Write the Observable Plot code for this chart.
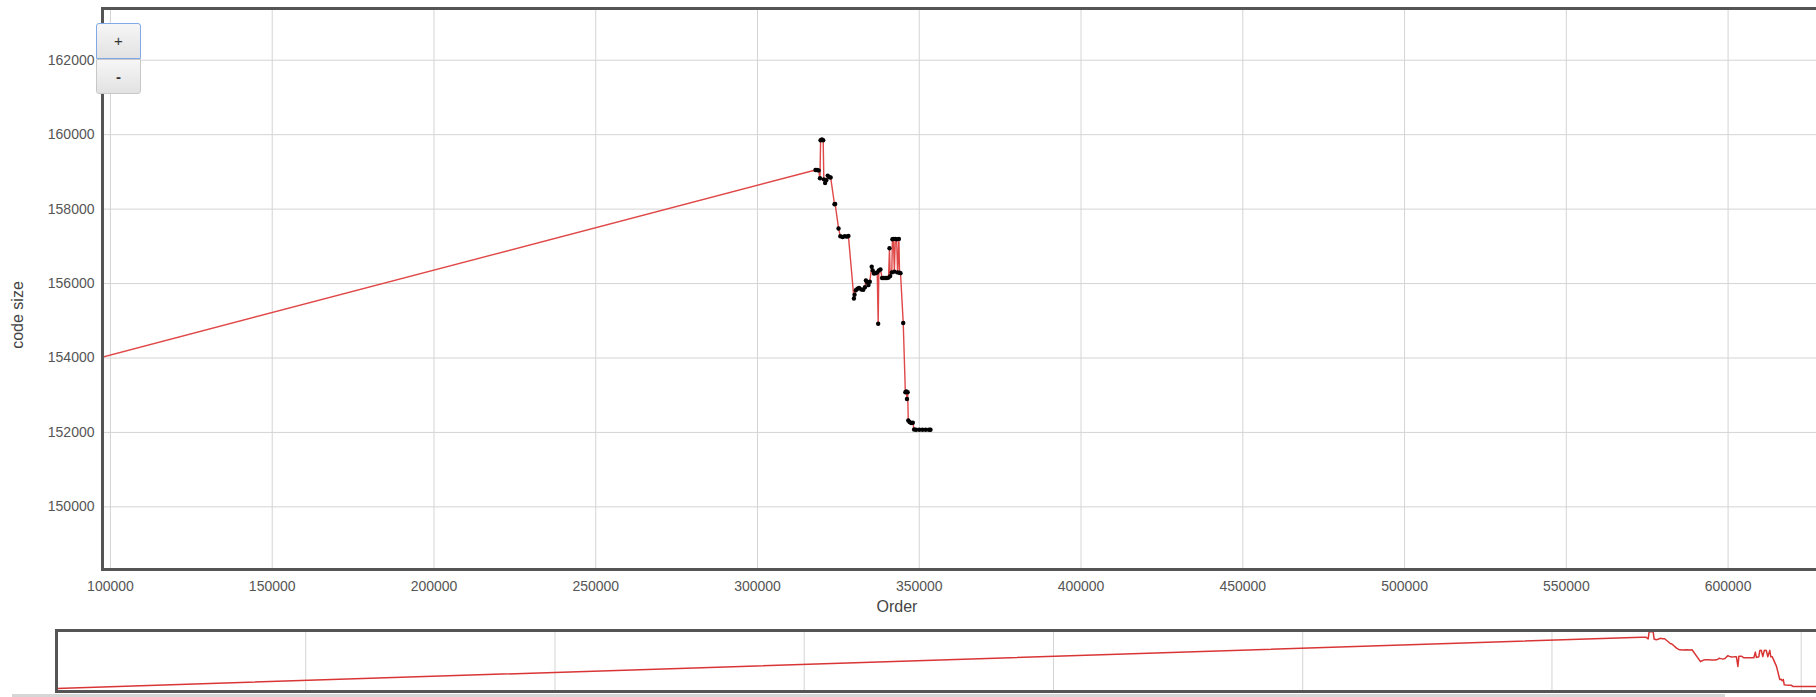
<!DOCTYPE html>
<html>
<head>
<meta charset="utf-8">
<script src="https://cdn.jsdelivr.net/npm/d3@7"></script>
<script src="https://cdn.jsdelivr.net/npm/@observablehq/plot@0.6"></script>
<style>
  html, body { margin: 0; padding: 0; background: #fff; overflow: hidden; width: 1816px; height: 697px; }
  body { position: relative; font-family: 'Liberation Sans', Arial, sans-serif; }
  #main { position: absolute; left: 0; top: 0; width: 1860px; }
  #overview { position: absolute; left: 0; top: 625px; width: 1822px; }
  #main svg, #overview svg { max-width: none !important; }
  .btn { position: absolute; left: 96px; width: 45px; box-sizing: border-box; text-align: center;
         background: linear-gradient(#f6f6f6, #e2e2e2); border: 1px solid #c8c8c8; color: #333;
         font-size: 15px; }
  #plus { top: 23px; height: 36px; line-height: 34px; border: 1px solid #7fa8e6; border-radius: 3px 3px 0 0; }
  #minus { top: 59px; height: 35px; line-height: 33px; border-radius: 0 0 3px 3px; font-weight: bold; }
  .lab { position: absolute; color: #444; font-size: 16px; white-space: nowrap; }
  #xlab { left: 897px; top: 607px; transform: translate(-50%, -50%); }
  #ylab { left: 18px; top: 315px; transform: translate(-50%, -50%) rotate(-90deg); }
  #scroll { position: absolute; left: 12px; top: 694px; width: 1713px; height: 3px; background: #d6d6d6; }
</style>
</head>
<body>
<div id="main"></div>
<div id="overview"></div>
<div id="plus" class="btn">+</div>
<div id="minus" class="btn">-</div>
<div id="xlab" class="lab">Order</div>
<div id="ylab" class="lab">code size</div>
<div id="scroll"></div>
<script>
// Commit order (x) and code size (y)
const orders = [
  0, 317930, 318400, 318900, 319300, 319500, 319900, 320300, 320500, 320900,
  321300, 321700, 322200, 322600, 323800, 324000, 325050, 325600, 326300, 327000,
  327700, 328100, 329800, 330000, 330400, 330900, 331400, 332100, 332700, 333200,
  333500, 333900, 334300, 334700, 335300, 335600, 336000, 336500, 337000, 337300,
  337500, 338000, 338500, 339000, 339500, 340000, 340500, 340800, 341000, 341500,
  341700, 342000, 342300, 342600, 343000, 343300, 343700, 343900, 344200, 345040,
  345700, 346000, 346200, 346400, 346600, 347000, 347500, 348000, 348400, 349000,
  350000, 351000, 352000, 353000, 353470
];
const sizes = [
  151800, 159050, 159050, 159040, 158830, 159850, 159870, 159850, 158800, 158700,
  158780, 158900, 158860, 158850, 158130, 158140, 157480, 157270, 157250, 157270,
  157260, 157280, 155600, 155700, 155820, 155860, 155880, 155840, 155830, 155900,
  156080, 156030, 155960, 156050, 156450, 156350, 156270, 156280, 156300, 154920,
  156350, 156380, 156150, 156150, 156150, 156150, 156160, 156950, 156200, 156300,
  157190, 157200, 156320, 157200, 157190, 156300, 157200, 156290, 156280, 154940,
  153080, 153100, 152900, 153080, 152320, 152280, 152250, 152260, 152080, 152070,
  152070, 152070, 152070, 152070, 152070
];
const xTicks = [100000, 150000, 200000, 250000, 300000, 350000, 400000, 450000, 500000, 550000, 600000];
const yTicks = [150000, 152000, 154000, 156000, 158000, 160000, 162000];
const overviewTicks = [0, 50000, 100000, 150000, 200000, 250000, 300000, 350000];

const data = orders.map((o, i) => ({order: o, size: sizes[i]}));
const fmt = d => String(d);

const main = Plot.plot({
  width: 1858, height: 619,
  marginLeft: 102, marginRight: 1, marginTop: 8, marginBottom: 50,
  x: {domain: [97540, 640000]},
  y: {domain: [148317, 163390]},
  style: {fontFamily: "'Liberation Sans', Arial, sans-serif", fontSize: "14px", color: "#555", background: "transparent", overflow: "visible", maxWidth: "none"},
  marks: [
    Plot.gridX(xTicks, {stroke: "#d4d4d4", strokeOpacity: 1, strokeWidth: 1}),
    Plot.gridY(yTicks, {stroke: "#d4d4d4", strokeOpacity: 1, strokeWidth: 1}),
    Plot.axisX(xTicks, {tickSize: 0, tickPadding: 12, tickFormat: fmt, label: null}),
    Plot.axisY(yTicks, {tickSize: 0, tickPadding: 8, tickFormat: fmt, label: null}),
    Plot.line(data, {x: "order", y: "size", stroke: "#e04848", strokeWidth: 1.4, clip: true}),
    Plot.dot(data, {x: "order", y: "size", r: 2.2, fill: "#000", stroke: null, clip: true}),
    Plot.frame({stroke: "#555", strokeWidth: 3})
  ]
});
document.getElementById("main").appendChild(main);

const overview = Plot.plot({
  width: 1820, height: 72,
  marginLeft: 56, marginRight: 2, marginTop: 5, marginBottom: 6,
  x: {domain: [0, 353470], axis: null},
  y: {domain: [151375, 160012], axis: null},
  style: {background: "transparent", overflow: "visible", maxWidth: "none"},
  marks: [
    Plot.gridX(overviewTicks, {stroke: "#d4d4d4", strokeOpacity: 1}),
    Plot.line(data, {x: "order", y: "size", stroke: "#d93535", strokeWidth: 1.5, curve: "linear"}),
    Plot.frame({stroke: "#555", strokeWidth: 3})
  ]
});
document.getElementById("overview").appendChild(overview);
</script>
</body>
</html>
